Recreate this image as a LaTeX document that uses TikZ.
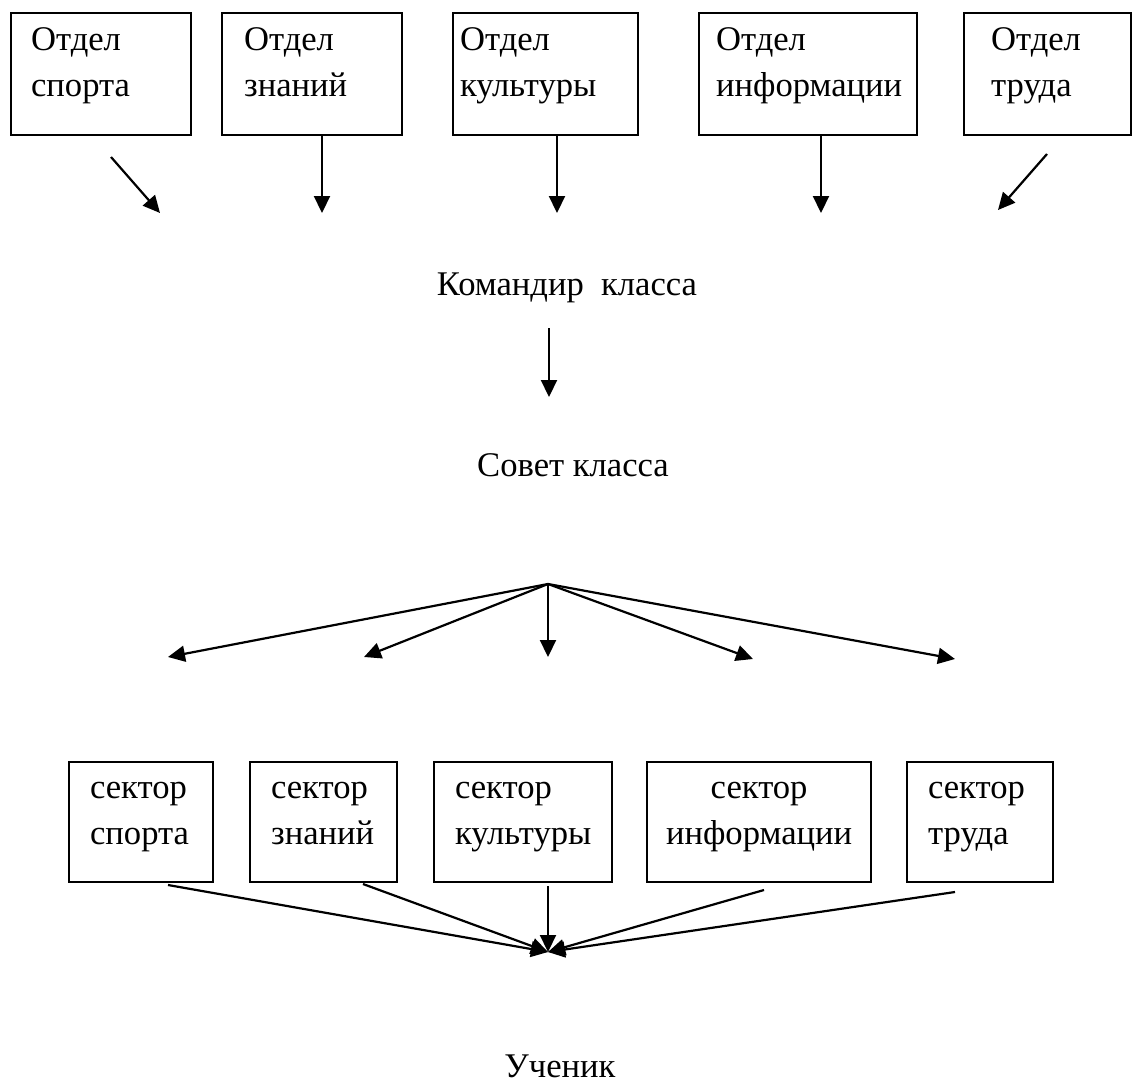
\documentclass[tikz,border=0pt]{standalone}
\usepackage{fontspec}
\setmainfont{Liberation Serif}
\usetikzlibrary{arrows.meta}
\newcommand{\txtfont}{\fontsize{17.3pt}{23pt}\selectfont}
\tikzset{
    common/.style={anchor=north west, draw, rectangle, line width=1.1pt, inner ysep=0pt, font=\txtfont},
    dept/.style={common, align=left, text height=18.5pt, text depth=42.5pt},
    sector/.style={common, align=left, text height=18pt, text depth=42pt},
    title/.style={anchor=base, font=\txtfont},
    arr/.style={line width=1.1pt, -{Triangle[length=8.5pt, width=8pt]}}
}
\begin{document}
\begin{tikzpicture}[x=0.5pt, y=-0.5pt]
    \useasboundingbox (0,0) rectangle (1132,1082);
    % departments
    \node[dept, inner xsep=10pt, text width=70pt] (otd1) at (10,12) {Отдел\\спорта};
    \node[dept, inner xsep=11pt, text width=68pt] (otd2) at (221,12) {Отдел\\знаний};
    \node[dept, inner xsep=3.5pt, text width=85.5pt] (otd3) at (452,12) {Отдел\\культуры};
    \node[dept, inner xsep=8.5pt, text width=92pt] (otd4) at (698,12) {Отдел\\информации};
    \node[dept, inner xsep=13.5pt, text width=56.5pt] (otd5) at (963,12) {Отдел\\труда};
    \coordinate (a1s) at (111,157);
    \coordinate (a1) at (160,213);
    \coordinate (a2) at (322,213);
    \coordinate (a3) at (557,213);
    \coordinate (a4) at (821,213);
    \coordinate (a5s) at (1047,154);
    \coordinate (a5) at (998,210);
    \draw[arr] (a1s) -- (a1);
    \draw[arr] (otd2.south -| a2) -- (a2);
    \draw[arr] (otd3.south -| a3) -- (a3);
    \draw[arr] (otd4.south -| a4) -- (a4);
    \draw[arr] (a5s) -- (a5);
    % class
    \node[title] (kom) at (567,295) {Командир~~класса};
    \coordinate (k1) at (549,328);
    \coordinate (k2) at (549,397);
    \draw[arr] (k1) -- (k2);
    \node[title] (sov) at (573,476) {Совет класса};
    \coordinate (fan) at (548,584);
    \foreach \x/\y [count=\i] in {168/657, 364/657, 548/657, 753/659, 955/659}
        \coordinate (t\i) at (\x,\y);
    \foreach \i in {1,...,5}
        \draw[arr] (fan) -- (t\i);
    % sectors
    \node[sector, inner xsep=10.5pt, text width=51pt] (sek1) at (68,761) {сектор\\спорта};
    \node[sector, inner xsep=10.5pt, text width=52.5pt] (sek2) at (249,761) {сектор\\знаний};
    \node[sector, inner xsep=10.5pt, text width=68pt] (sek3) at (433,761) {сектор\\культуры};
    \node[sector, align=center, inner xsep=2.5pt, text width=107pt] (sek4) at (646,761) {сектор\\информации};
    \node[sector, inner xsep=10.5pt, text width=52pt] (sek5) at (906,761) {сектор\\труда};
    \coordinate (uch) at (548,952);
    \foreach \x/\y [count=\i] in {168/885, 363/884, 548/886, 764/890, 955/892}
        \coordinate (f\i) at (\x,\y);
    \foreach \i in {1,...,5}
        \draw[arr] (f\i) -- (uch);
    \node[title] (uchenik) at (560,1077) {Ученик};
\end{tikzpicture}
\end{document}
